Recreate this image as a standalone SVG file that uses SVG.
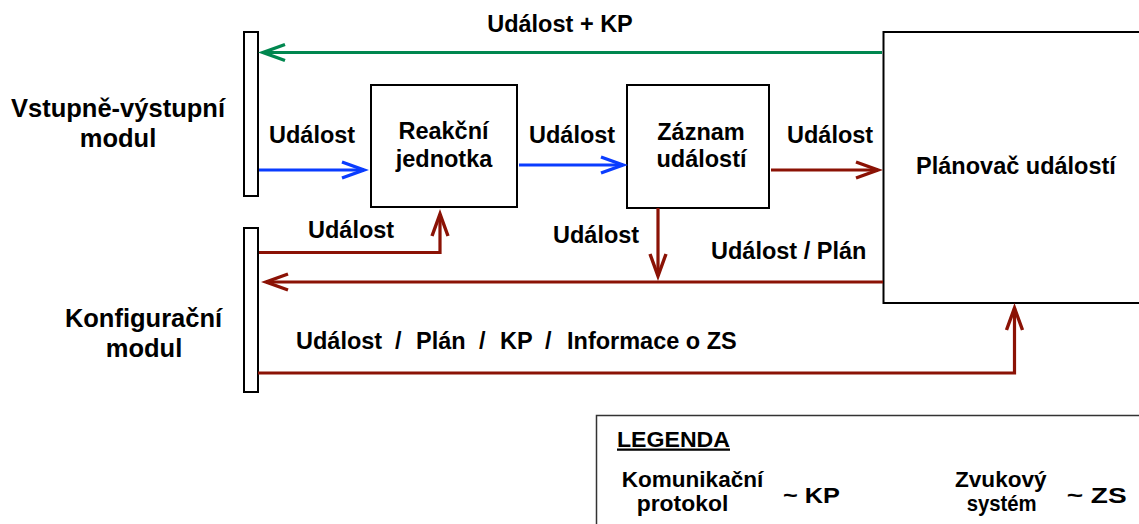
<svg xmlns="http://www.w3.org/2000/svg" width="1139" height="524" viewBox="0 0 1139 524">
<style>
text{font-family:"Liberation Sans",Arial,Helvetica,sans-serif;font-weight:bold;fill:#000}
.t{font-size:23.5px}
.big{font-size:25.5px}
.lg{font-size:22.5px}
.c{text-anchor:middle}
.box{fill:#fff;stroke:#000;stroke-width:2}
.g{stroke:#00874F;stroke-width:3.2;fill:none}
.b{stroke:#0A3CFF;stroke-width:3.2;fill:none}
.r{stroke:#8B1205;stroke-width:3.2;fill:none}
</style>
<defs>
<marker id="ag" markerUnits="userSpaceOnUse" markerWidth="40" markerHeight="30" viewBox="-30 -15 40 30" refX="0" refY="0" orient="auto"><path d="M-22,-8 L0,0 L-22,8" fill="none" stroke="#00874F" stroke-width="3.4"/></marker>
<marker id="ab" markerUnits="userSpaceOnUse" markerWidth="40" markerHeight="30" viewBox="-30 -15 40 30" refX="0" refY="0" orient="auto"><path d="M-22,-8 L0,0 L-22,8" fill="none" stroke="#0A3CFF" stroke-width="3.4"/></marker>
<marker id="ar" markerUnits="userSpaceOnUse" markerWidth="40" markerHeight="30" viewBox="-30 -15 40 30" refX="0" refY="0" orient="auto"><path d="M-22,-8 L0,0 L-22,8" fill="none" stroke="#8B1205" stroke-width="3.4"/></marker>
</defs>
<rect width="1139" height="524" fill="#fff"/>

<g id="io-module">
<rect class="box" x="244" y="32" width="14" height="164"/>
<text class="big c" x="118" y="117">Vstupně-výstupní</text>
<text class="big c" x="118" y="147">modul</text>
</g>

<g id="config-module">
<rect class="box" x="244" y="228" width="14" height="164"/>
<text class="big c" x="143.5" y="327">Konfigurační</text>
<text class="big c" x="144" y="357">modul</text>
</g>

<g id="reakcni-jednotka">
<rect class="box" x="371" y="85" width="146" height="122"/>
<text class="t c" x="443.5" y="139">Reakční</text>
<text class="t c" x="444" y="166.5">jednotka</text>
</g>

<g id="zaznam-udalosti">
<rect class="box" x="627" y="85" width="142" height="123"/>
<text class="t c" x="701" y="140">Záznam</text>
<text class="t c" x="701.5" y="167">událostí</text>
</g>

<g id="planovac-udalosti">
<rect class="box" x="883.5" y="32" width="300" height="271"/>
<text class="t c" x="1016" y="174">Plánovač událostí</text>
</g>

<g id="connectors">
<line class="g" x1="882" y1="52.5" x2="263" y2="52.5" marker-end="url(#ag)"/>
<line class="b" x1="259" y1="170" x2="364" y2="170" marker-end="url(#ab)"/>
<line class="b" x1="519" y1="165" x2="623" y2="165" marker-end="url(#ab)"/>
<line class="r" x1="771" y1="170" x2="878" y2="170" marker-end="url(#ar)"/>
<line class="r" x1="658" y1="208" x2="658" y2="276" marker-end="url(#ar)"/>
<line class="r" x1="883" y1="282" x2="266" y2="282" marker-end="url(#ar)"/>
<path class="r" d="M259,252.5 H440 V214" marker-end="url(#ar)"/>
<path class="r" d="M258,373 H1014.5 V308" marker-end="url(#ar)"/>

<text class="t c" x="560" y="32">Událost + KP</text>
<text class="t" x="269" y="143">Událost</text>
<text class="t" x="529" y="143">Událost</text>
<text class="t" x="787" y="143">Událost</text>
<text class="t" x="308" y="237.5">Událost</text>
<text class="t" x="553" y="243">Událost</text>
<text class="t" x="711" y="259">Událost / Plán</text>
<text class="t" y="348.5"><tspan x="296">Událost</tspan><tspan x="395">/</tspan><tspan x="416">Plán</tspan><tspan x="479">/</tspan><tspan x="500">KP</tspan><tspan x="545">/</tspan><tspan x="567">Informace o ZS</tspan></text>
</g>

<g id="legenda">
<rect x="596.5" y="415.5" width="600" height="200" fill="#fff" stroke="#333" stroke-width="1.5"/>
<text class="lg" x="617" y="446.5" textLength="113" lengthAdjust="spacingAndGlyphs" text-decoration="underline">LEGENDA</text>
<text class="lg" x="621.7" y="486.7" textLength="141.6" lengthAdjust="spacingAndGlyphs">Komunikační</text>
<text class="lg" x="636.7" y="511" textLength="91.6" lengthAdjust="spacingAndGlyphs">protokol</text>
<text class="lg" x="783" y="503.3" textLength="57" lengthAdjust="spacingAndGlyphs">~ KP</text>
<text class="lg" x="955" y="486.7" textLength="91.7" lengthAdjust="spacingAndGlyphs">Zvukový</text>
<text class="lg" x="966.7" y="511" textLength="70" lengthAdjust="spacingAndGlyphs">systém</text>
<text class="lg" x="1066.7" y="503.3" textLength="60" lengthAdjust="spacingAndGlyphs">~ ZS</text>
</g>
</svg>
